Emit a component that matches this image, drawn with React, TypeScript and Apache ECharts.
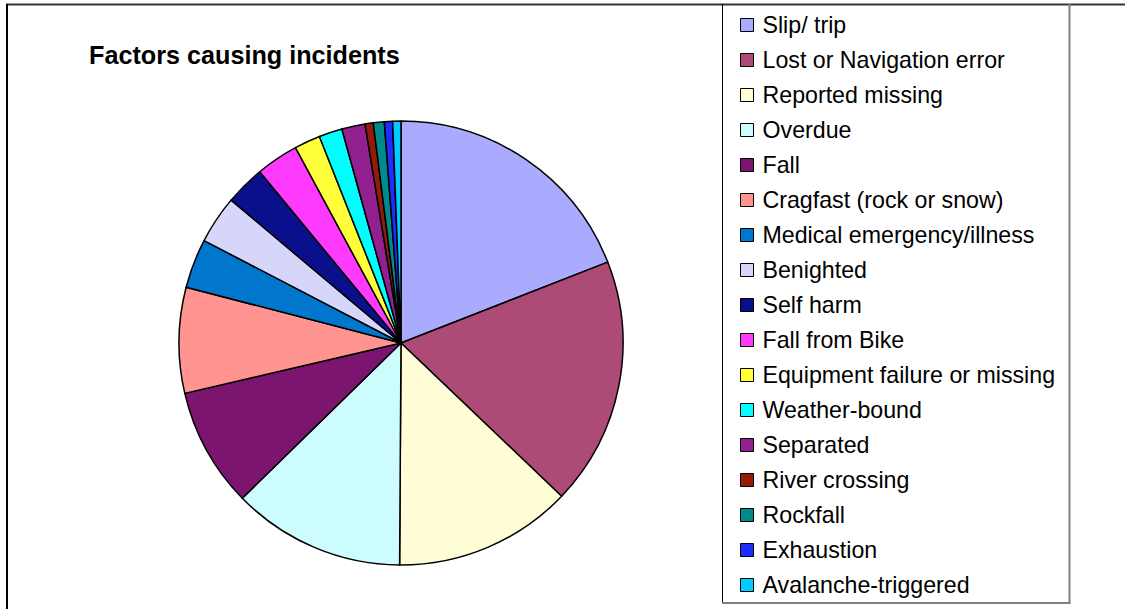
import React, { useEffect, useRef } from "react";
import * as echarts from "echarts";

const categories = [
  "Slip/ trip",
  "Lost or Navigation error",
  "Reported missing",
  "Overdue",
  "Fall",
  "Cragfast (rock or snow)",
  "Medical emergency/illness",
  "Benighted",
  "Self harm",
  "Fall from Bike",
  "Equipment failure or missing",
  "Weather-bound",
  "Separated",
  "River crossing",
  "Rockfall",
  "Exhaustion",
  "Avalanche-triggered",
];

const values = [19.1, 18.1, 13.0, 12.6, 8.7, 7.7, 3.6, 3.5, 2.9, 3.1, 1.9, 1.7, 1.7, 0.6, 0.8, 0.6, 0.6];

const colors = [
  "#AAAAFF",
  "#AD4A76",
  "#FFFDD6",
  "#CDFCFF",
  "#7B1570",
  "#FF9490",
  "#0077CC",
  "#D6D6FA",
  "#0A0F8B",
  "#FF3AFF",
  "#FFFF3A",
  "#00FFFF",
  "#932090",
  "#941A0A",
  "#008B8B",
  "#1C2DFF",
  "#00CCFF",
];

const FONT = "'Liberation Sans', Arial, sans-serif";

export default function App() {
  const ref = useRef<HTMLDivElement>(null);

  useEffect(() => {
    if (!ref.current) return;
    const chart = echarts.init(ref.current, undefined, { renderer: "svg" });
    chart.setOption({
      animation: false,
      backgroundColor: "#ffffff",
      color: colors,
      title: {
        text: "Factors causing incidents",
        left: 89,
        top: 42,
        padding: 0,
        textStyle: { fontFamily: FONT, fontSize: 25.2, fontWeight: "bold", color: "#000" },
      },
      legend: {
        orient: "vertical",
        left: 740,
        top: 13,
        padding: 0,
        itemWidth: 13,
        itemHeight: 13,
        itemGap: 11,
        icon: "rect",
        selectedMode: false,
        itemStyle: { borderColor: "#000", borderWidth: 1 },
        textStyle: { fontFamily: FONT, fontSize: 23.2, color: "#000", lineHeight: 24, padding: [0, 0, 0, 4] },
        data: categories,
      },
      graphic: [
        { type: "line", shape: { x1: 6, y1: 4.5, x2: 1125, y2: 4.5 }, style: { stroke: "#333", lineWidth: 2 } },
        { type: "line", shape: { x1: 7, y1: 4, x2: 7, y2: 609 }, style: { stroke: "#000", lineWidth: 2 } },
        { type: "line", shape: { x1: 722.5, y1: 4, x2: 722.5, y2: 603 }, style: { stroke: "#000", lineWidth: 1 } },
        { type: "line", shape: { x1: 1069.5, y1: 4, x2: 1069.5, y2: 603.5 }, style: { stroke: "#808080", lineWidth: 2 } },
        { type: "line", shape: { x1: 722, y1: 603, x2: 1070.5, y2: 603 }, style: { stroke: "#808080", lineWidth: 2 } },
      ],
      series: [
        {
          type: "pie",
          center: [401, 343],
          radius: 222,
          startAngle: 90,
          clockwise: true,
          avoidLabelOverlap: false,
          label: { show: false },
          labelLine: { show: false },
          emphasis: { disabled: true },
          itemStyle: { borderColor: "#000", borderWidth: 1.5 },
          data: categories.map((name, i) => ({ name, value: values[i] })),
        },
      ],
    });
    return () => chart.dispose();
  }, []);

  return (
    <div
      ref={ref}
      style={{ position: "fixed", left: 0, top: 0, width: 1125, height: 609, background: "#fff" }}
    />
  );
}
